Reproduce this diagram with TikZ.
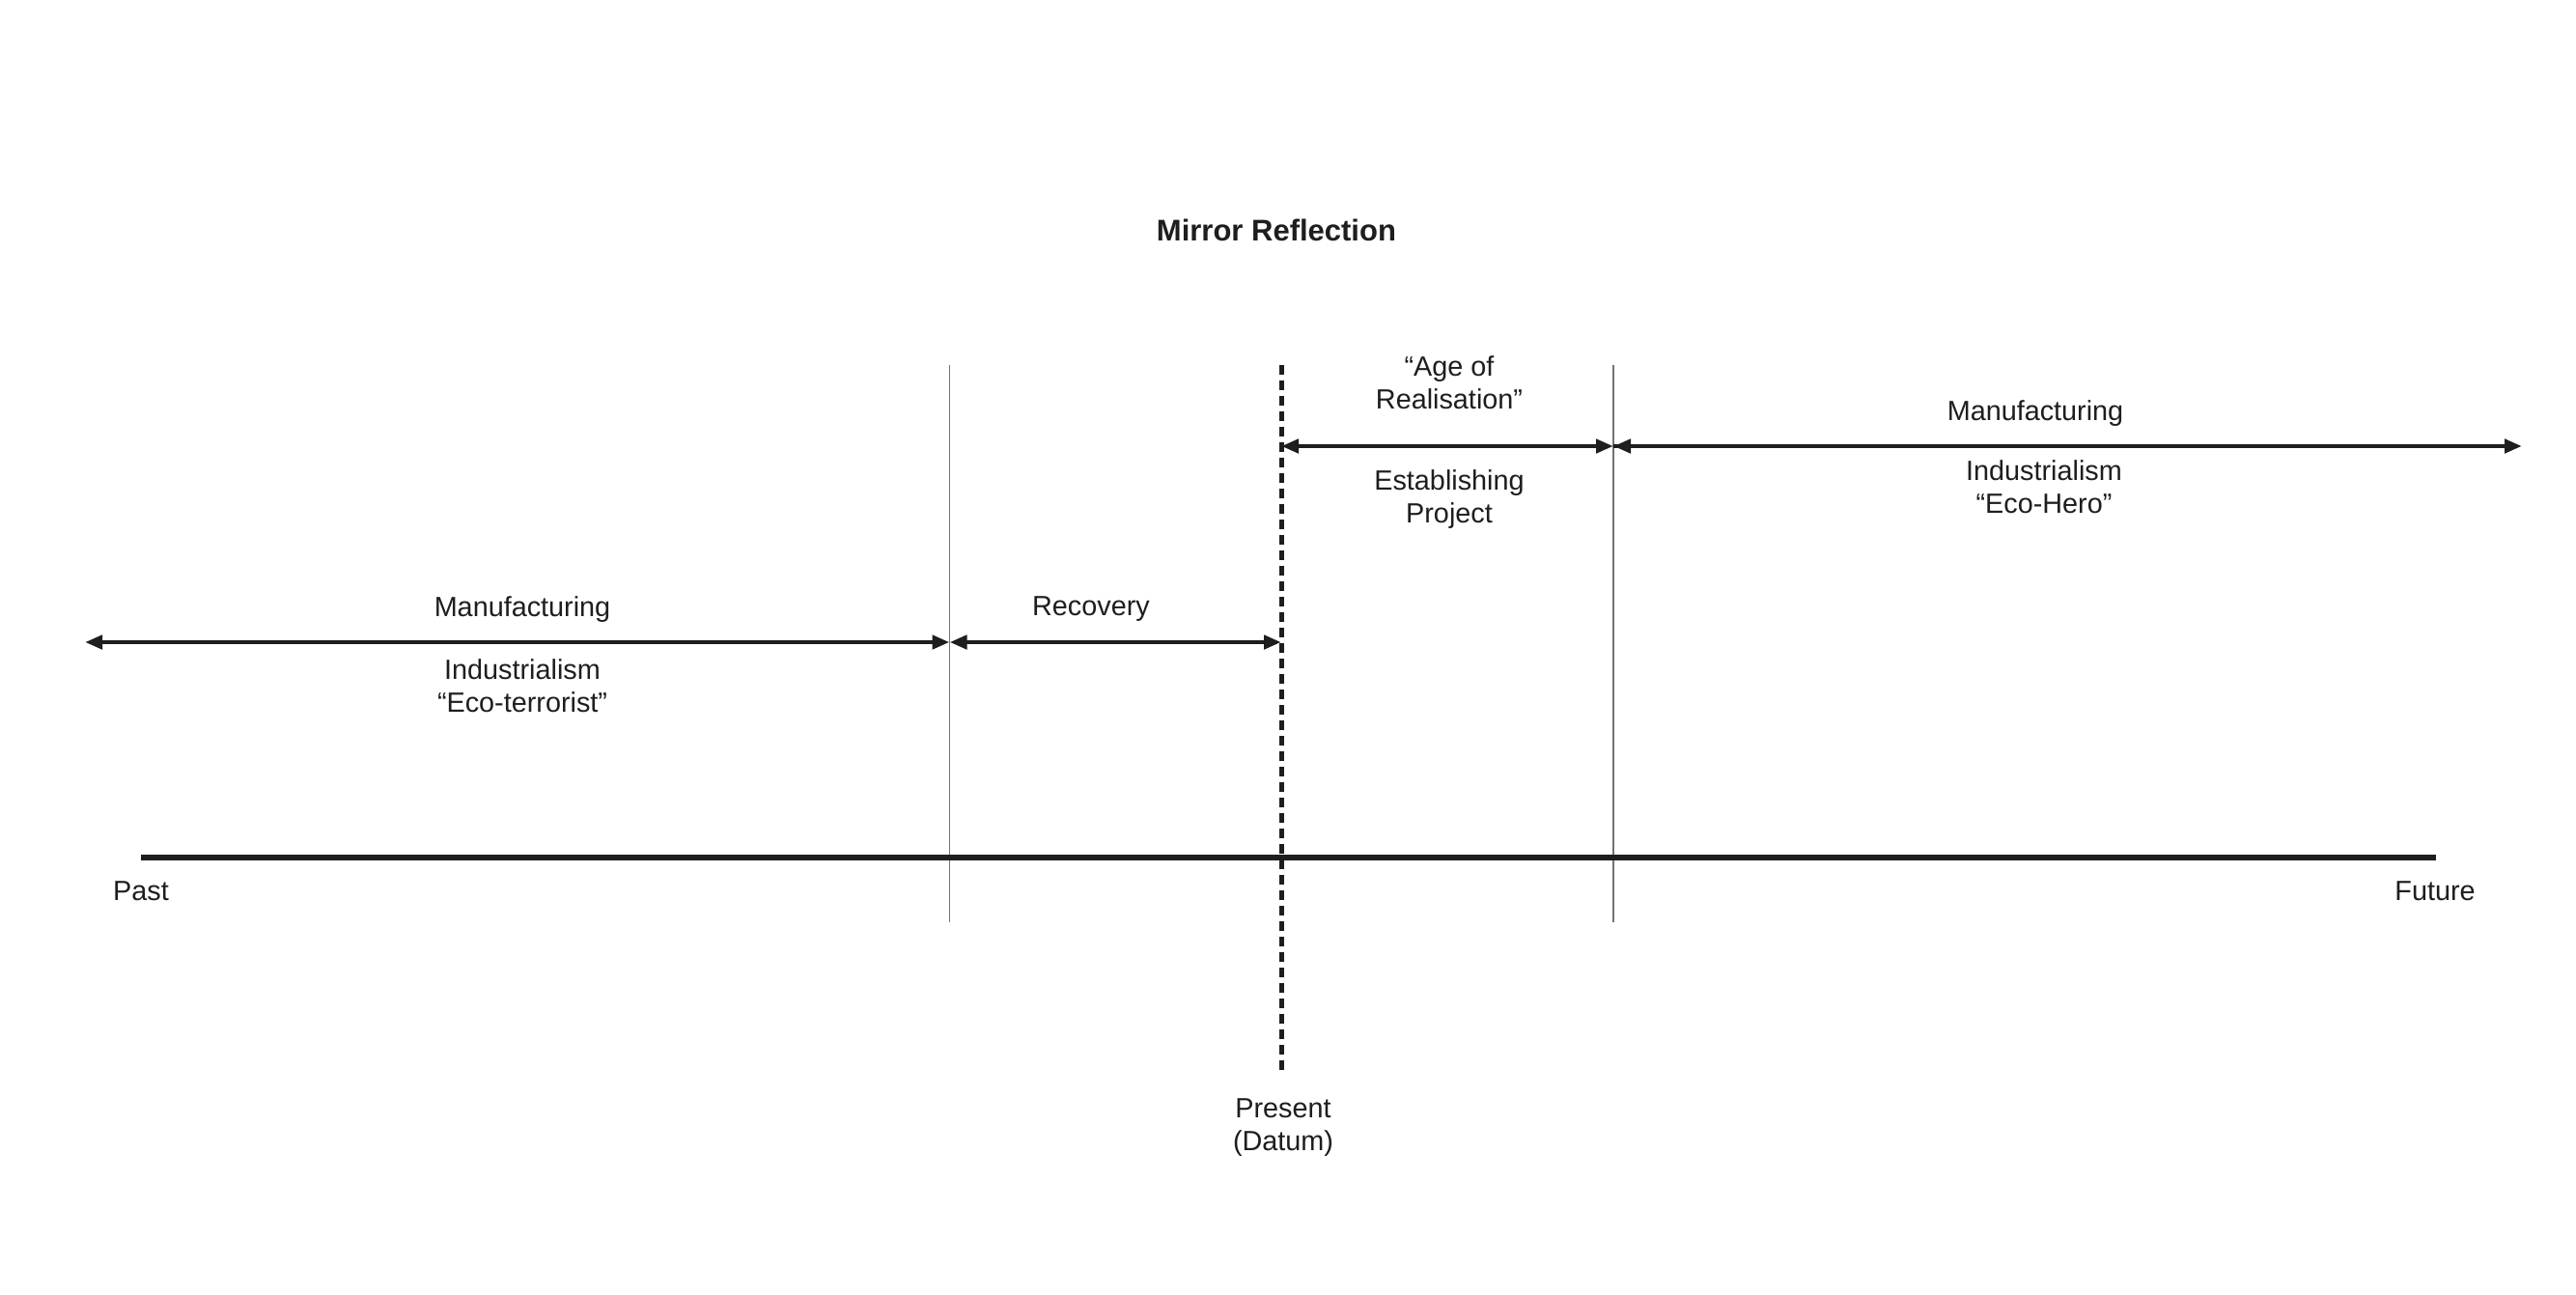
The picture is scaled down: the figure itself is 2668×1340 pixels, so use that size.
\documentclass[tikz,border=0pt]{standalone}
\usepackage{fontspec}
\setmainfont{Liberation Sans}
\usetikzlibrary{arrows.meta}
\definecolor{ink}{HTML}{1E1E1E}
\begin{document}
\begin{tikzpicture}[x=0.5pt,y=-0.5pt,
  lbl/.style={inner sep=0pt,align=center,text=ink,font=\fontsize{14.4}{17}\selectfont},
  ttl/.style={inner sep=0pt,text=ink,font=\fontsize{15.5}{18}\selectfont\bfseries},
  span/.style={draw=ink,line width=2.4pt,{Triangle[length=9pt,width=7pt]}-{Triangle[length=9pt,width=7pt]}},
  lspan/.style={draw=ink,line width=2.4pt,{Triangle[length=9pt,width=7pt]}-},
  rspan/.style={draw=ink,line width=2.4pt,-{Triangle[length=9pt,width=7pt]}},
  thin/.style={draw=black!55,line width=0.6pt},
  datum/.style={draw=ink,line width=2.5pt,dash pattern=on 5pt off 3pt},
  axisline/.style={draw=ink,line width=3pt}]
\useasboundingbox[fill=white] (0,0) rectangle (2668,1340);

% coordinates
\coordinate (axL) at (146,888);
\coordinate (axR) at (2523,888);
\coordinate (v1t) at (983.5,378);
\coordinate (v1b) at (983.5,955);
\coordinate (dt) at (1327,378);
\coordinate (db) at (1327,1108);
\coordinate (v2t) at (1671,378);
\coordinate (v2b) at (1671,955);
\coordinate (loL) at (88,665);
\coordinate (loM) at (983.5,665);
\coordinate (loR) at (1327,665);
\coordinate (upL) at (1327,462);
\coordinate (upM) at (1671,462);
\coordinate (upR) at (2612,462);

% lines
\draw[thin] (v1t) -- (v1b);
\draw[thin] (v2t) -- (v2b);
\draw[axisline] (axL) -- (axR);
\draw[datum] (dt) -- (db);
\draw[span] (loL) -- (loM);
\draw[span] (loM) -- (loR);
\draw[span] (upL) -- (upM);
\draw[rspan] (upM) -- (upR);
\draw[lspan] (upM) -- ([xshift=20]upM);

% texts
\node[ttl] (title) at (1322,238) {Mirror Reflection};
\node[lbl] (manL) at (541,631) {Manufacturing};
\node[lbl] (indL) at (541,710) {Industrialism\\“Eco-terrorist”};
\node[lbl] (rec) at (1130,631) {Recovery};
\node[lbl] (age) at (1501,396) {“Age of\\Realisation”};
\node[lbl] (est) at (1501,517) {Establishing\\Project};
\node[lbl] (manR) at (2108,428) {Manufacturing};
\node[lbl] (indR) at (2117,504) {Industrialism\\“Eco-Hero”};
\node[lbl] (past) at (146,923) {Past};
\node[lbl] (fut) at (2522,923) {Future};
\node[lbl] (pres) at (1329,1168) {Present\\(Datum)};
\end{tikzpicture}
\end{document}
